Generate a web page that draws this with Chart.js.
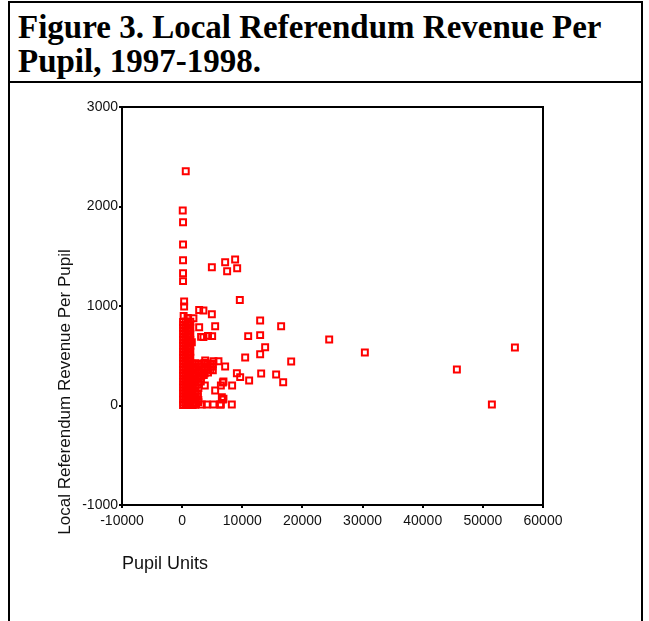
<!DOCTYPE html>
<html>
<head>
<meta charset="utf-8">
<script src="https://cdn.jsdelivr.net/npm/chart.js@4.4.1/dist/chart.umd.min.js"></script>
<style>
  html, body { margin: 0; padding: 0; background: #fff; }
  body { width: 649px; height: 621px; position: relative; overflow: hidden; }
  #frame { position: absolute; left: 8px; top: 1px; width: 631px; height: 700px; border: 2px solid #000; }
  #title {
    height: 80px; border-bottom: 2px solid #000;
    font-family: "Liberation Serif", "Times New Roman", serif; font-weight: bold;
    font-size: 33px; line-height: 34px; padding: 7px 0 0 8px; box-sizing: border-box;
  }
  #chart { position: absolute; left: 0; top: 0; }
</style>
</head>
<body>
<div id="frame">
  <div id="title">Figure 3. Local Referendum Revenue Per<br>Pupil, 1997-1998.</div>
</div>
<canvas id="chart" width="649" height="621"></canvas>
<script>
// axis ranges and tick labels
const xTicks = [-10000, 0, 10000, 20000, 30000, 40000, 50000, 60000];
const yTicks = [-1000, 0, 1000, 2000, 3000];

// pupil units per district (x) and local referendum revenue per pupil (y)
const pupilUnits = [
    // scattered districts
    600, 100, 150, 150, 150, 150, 150, 4940, 7150, 8810, 7480, 9150, 9590,
    12970, 16460, 10980, 12970, 24450, 13800, 30380, 55330, 12970, 10480, 18130,
    45680, 51500, 13140, 15630, 16800, 11140, 9650, 9100, 8310, 7150, 8260, 6770,
    6440, 5490, 5490, 4940, 3540, 2830, 4990, 3830, 5210, 6040, 6770, 6440, 330,
    330, 1880, 2830, 3540, 1610, 6870, 6870, 6320, 5210, 4100, 3270, 2160, 3770,
    3000, 1000, 3150, 4300, 6600, 250, 900,
    // small districts, dense column near zero
    150, 560, 940, 1360,
    230, 620, 1010, 1290,
    150, 560, 940, 1360,
    230, 620, 1010, 1290,
    150, 560, 940, 1360,
    230, 620, 1010, 1290,
    150, 560, 940, 1360,
    230, 620, 1010, 1290,
    150, 560, 940, 1360,
    230, 620, 1010, 1290,
    150, 560, 940, 1360,
    230, 620, 1010, 1290,
    150, 560, 940, 1360,
    230, 620, 1010, 1290,
    150, 560, 940, 1360,
    230, 620, 1010, 1290,
    150, 560, 940, 1360,
    230, 620, 1010, 1290,
    150, 560, 940, 1360,
    230, 620, 1010, 1290,
    150, 560, 940, 1360,
    230, 620, 1010, 1290,
    150, 560, 940, 1360,
    230, 620, 1010, 1290,
    150, 560, 940, 1360,
    230, 620, 1010, 1290,
    150, 560, 940, 1360,
    230, 620, 1010, 1290,
    150, 560, 940, 1360, 1750, 2200,
    // small districts, block beside the column
    1700, 2200, 2700, 3200, 3700, 4200, 4700, 5100,
    1750, 2250, 2750, 3250, 3750, 4250, 4750, 5050,
    1700, 2200, 2700, 3200, 3700, 4200, 4700, 5100,
    1750, 2250, 2750, 3250, 3750, 4300,
    1700, 2200, 2700, 3200, 3600,
    1750, 2250, 2700, 3100,
    1700, 2200, 2700, 3100,
    1750, 2250, 2700,
    1700, 2200, 2700,
    1750, 2200,
    1700, 2200, 2600,
    1750, 2250, 2600,
    1700, 2200, 2700,
    1750, 2250, 2700
];
const revenuePerPupil = [
    2355, 1960, 1842, 1618, 1460, 1330, 1250, 1390, 1440, 1467, 1350, 1380, 1060,
    854, 797, 697, 707, 663, 586, 533, 583, 516, 482, 442,
    362, 10, 322, 312, 234, 251, 285, 325, 201, 392, 10, 60,
    10, 150, 797, 918, 955, 960, 697, 452, 445, 445, 231, 201, 1045,
    995, 877, 787, 687, 636, 241, 67, 10, 10, 10, 10, 84, 201,
    300, 874, 690, 700, 84, 900, 880,
    840, 845, 835, 842,
    810, 806, 814, 810,
    780, 784, 776, 781,
    750, 746, 753, 750,
    720, 724, 717, 721,
    690, 687, 693, 690,
    660, 664, 657, 661,
    630, 626, 633, 630,
    600, 604, 597, 601,
    570, 566, 573, 570,
    540, 544, 537, 541,
    510, 506, 513, 510,
    480, 484, 477, 481,
    450, 446, 453, 450,
    420, 424, 417, 421,
    390, 386, 393, 390,
    360, 364, 357, 361,
    330, 326, 333, 330,
    300, 304, 297, 301,
    270, 266, 273, 270,
    240, 244, 237, 241,
    210, 206, 213, 210,
    180, 184, 177, 181,
    150, 146, 153, 150,
    120, 124, 117, 121,
    90, 86, 93, 90,
    60, 64, 57, 61,
    30, 26, 33, 30,
    5, 8, 5, 10, 5, 8,
    420, 425, 415, 420, 428, 416, 422, 418,
    390, 386, 394, 390, 385, 392, 388, 395,
    360, 364, 356, 360, 366, 358, 362, 355,
    330, 326, 334, 330, 325, 332,
    300, 304, 296, 300, 306,
    270, 266, 274, 270,
    240, 244, 236, 240,
    210, 206, 214,
    180, 184, 176,
    150, 146,
    120, 124, 118,
    90, 86, 94,
    60, 64, 56,
    30, 26, 34
];

const points = pupilUnits.map((x, i) => ({ x: x, y: revenuePerPupil[i] }));

const axisText = { family: 'Arial, "Liberation Sans", sans-serif', size: 14 };

// box around plot area + axis titles placed like the original
const framePlugin = {
    id: 'frame',
    afterDraw(chart) {
        const { ctx, chartArea: a } = chart;
        ctx.save();
        ctx.strokeStyle = '#000';
        ctx.lineWidth = 2;
        ctx.beginPath();
        ctx.moveTo(a.left, a.top);
        ctx.lineTo(a.right, a.top);
        ctx.lineTo(a.right, a.bottom);
        ctx.stroke();

        ctx.fillStyle = '#111';
        ctx.textBaseline = 'alphabetic';
        ctx.textAlign = 'left';
        ctx.font = '18px Arial, "Liberation Sans", sans-serif';
        ctx.fillText('Pupil Units', 122, 569);

        ctx.font = '17px Arial, "Liberation Sans", sans-serif';
        ctx.translate(70, 392);
        ctx.rotate(-Math.PI / 2);
        ctx.textAlign = 'center';
        ctx.fillText('Local Referendum Revenue Per Pupil', 0, 0);
        ctx.restore();
    }
};

new Chart(document.getElementById('chart').getContext('2d'), {
    type: 'scatter',
    data: {
        datasets: [{
            data: points,
            pointStyle: 'rect',
            pointRadius: 4.2,
            borderColor: '#ff0000',
            backgroundColor: 'rgba(0,0,0,0)',
            borderWidth: 2
        }]
    },
    options: {
        responsive: false,
        devicePixelRatio: 1,
        animation: false,
        layout: { padding: { left: 72, right: 106, top: 107, bottom: 0 } },
        plugins: { legend: { display: false }, tooltip: { enabled: false } },
        scales: {
            x: {
                type: 'linear',
                min: xTicks[0],
                max: xTicks[xTicks.length - 1],
                afterFit: s => { s.height = 116; },
                afterBuildTicks: s => { s.ticks = xTicks.map(v => ({ value: v })); },
                ticks: { callback: v => String(v), font: axisText, color: '#111', padding: 5, maxRotation: 0 },
                grid: { drawOnChartArea: false, drawTicks: true, tickLength: 3, color: '#000', lineWidth: 2 },
                border: { display: true, color: '#000', width: 2 }
            },
            y: {
                type: 'linear',
                min: yTicks[0],
                max: yTicks[yTicks.length - 1],
                afterFit: s => { s.width = 50; },
                afterBuildTicks: s => { s.ticks = yTicks.map(v => ({ value: v })); },
                ticks: { callback: v => String(v), font: axisText, color: '#111', padding: 1 },
                grid: { drawOnChartArea: false, drawTicks: true, tickLength: 3, color: '#000', lineWidth: 2 },
                border: { display: true, color: '#000', width: 2 }
            }
        }
    },
    plugins: [framePlugin]
});
</script>
</body>
</html>
